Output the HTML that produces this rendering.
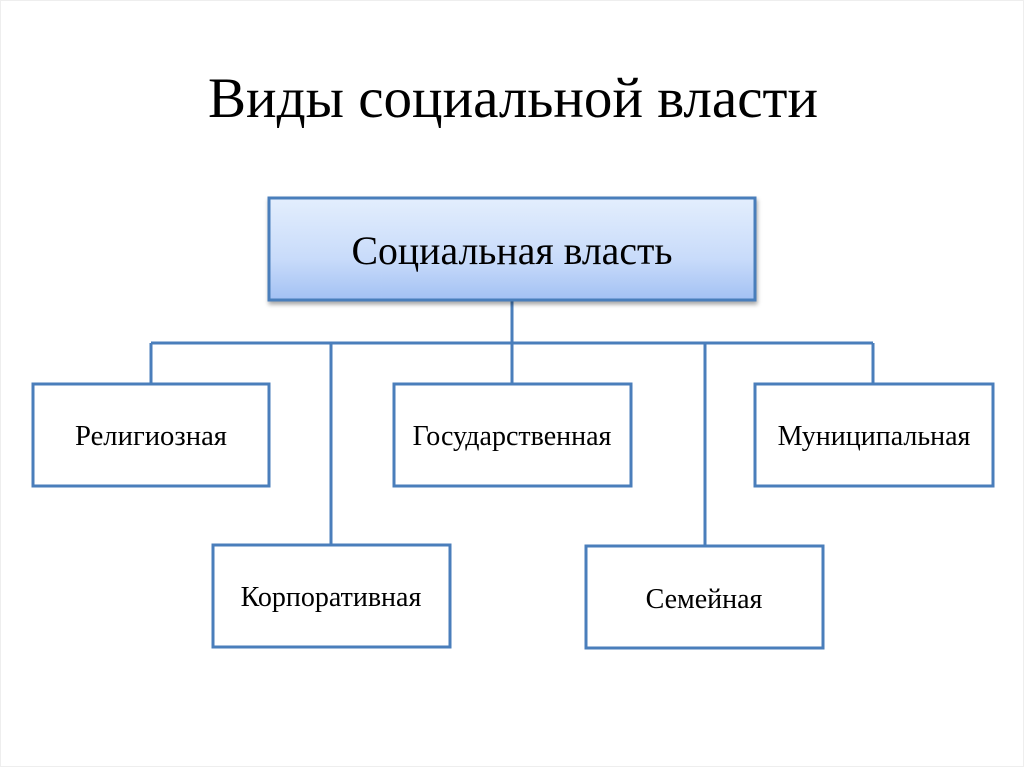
<!DOCTYPE html>
<html><head><meta charset="utf-8"><style>
html,body{margin:0;padding:0;background:#fff;}
svg{display:block;}
text{font-family:"Liberation Serif",serif;fill:#000;}
</style></head><body>
<svg width="1024" height="767" viewBox="0 0 1024 767">
<defs>
<linearGradient id="g" x1="0" y1="0" x2="0" y2="1">
<stop offset="0" stop-color="#e3eefd"/>
<stop offset="0.6" stop-color="#c8dbfa"/>
<stop offset="1" stop-color="#a3c1f3"/>
</linearGradient>
<filter id="s" x="-5%" y="-10%" width="110%" height="125%">
<feDropShadow dx="1" dy="3" stdDeviation="2" flood-color="#000" flood-opacity="0.35"/>
</filter>
</defs>
<rect x="0.5" y="0.5" width="1023" height="766" fill="none" stroke="#eee"/>
<text x="513" y="117" font-size="57" text-anchor="middle" textLength="610" lengthAdjust="spacingAndGlyphs">Виды социальной власти</text>
<g stroke="#4a7ebb" stroke-width="3" fill="none">
<line x1="512" y1="300" x2="512" y2="383"/>
<line x1="151" y1="343" x2="873" y2="343"/>
<line x1="151" y1="343" x2="151" y2="383"/>
<line x1="331" y1="343" x2="331" y2="545"/>
<line x1="705" y1="343" x2="705" y2="545"/>
<line x1="873" y1="343" x2="873" y2="383"/>
</g>
<rect x="269" y="198" width="486" height="102" fill="url(#g)" stroke="#4a7ebb" stroke-width="3" filter="url(#s)"/>
<text x="512" y="264" font-size="40" text-anchor="middle" textLength="321" lengthAdjust="spacingAndGlyphs">Социальная власть</text>
<g font-size="28" text-anchor="middle">
<text x="151" y="445" textLength="152" lengthAdjust="spacingAndGlyphs">Религиозная</text>
<text x="512" y="445">Государственная</text>
<text x="874" y="445">Муниципальная</text>
<text x="331" y="606">Корпоративная</text>
<text x="704" y="608">Семейная</text>
</g>
<g fill="none" stroke="#4a7ebb" stroke-width="3">
<rect x="33" y="384" width="236" height="102"/>
<rect x="394" y="384" width="237" height="102"/>
<rect x="755" y="384" width="238" height="102"/>
<rect x="213" y="545" width="237" height="102"/>
<rect x="586" y="546" width="237" height="102"/>
</g>
</svg>
</body></html>
